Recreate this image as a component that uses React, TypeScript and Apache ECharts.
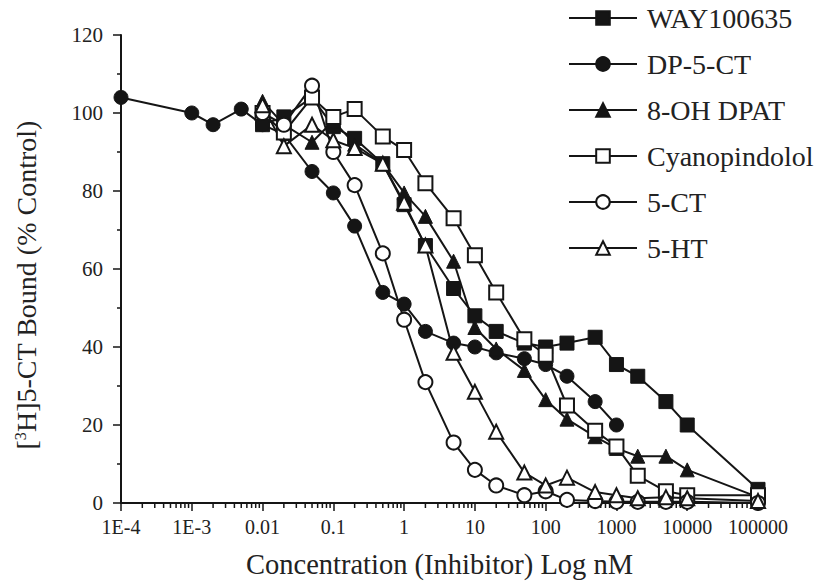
import React, { useEffect, useRef } from "react";
import * as echarts from "echarts";

const seriesNames = ["WAY100635", "DP-5-CT", "8-OH DPAT", "Cyanopindolol", "5-CT", "5-HT"];
const conc = [0.01, 0.02, 0.05, 0.1, 0.2, 0.5, 1, 2, 5, 10, 20, 50, 100, 200, 500, 1000, 2000, 5000, 10000, 100000];
const dpConc = [0.0001, 0.001, 0.002, 0.005, 0.01, 0.02, 0.05, 0.1, 0.2, 0.5, 1, 2, 5, 10, 20, 50, 100, 200, 500, 1000];

const way = [97, 99, 104, 96.5, 93.5, 87, 76.5, 66, 55, 48, 44, 41, 40, 41, 42.5, 35.5, 32.5, 26, 20, 3.5];
const dp = [104, 100, 97, 101, 97, 94.5, 85, 79.5, 71, 54, 51, 44, 41, 40, 38.5, 37, 35.5, 32.5, 26, 20];
const ohDpat = [103, 97, 92.5, 98, 92, 87, 79.5, 73.5, 62, 45, 39.5, 34, 26.5, 21.5, 17, 14, 12, 12, 8.5, 1.5];
const cyano = [100, 95, 104, 99, 101, 94, 90.5, 82, 73, 63.5, 54, 42, 38, 25, 18.5, 14.5, 7, 3, 2, 2];
const ct5 = [100, 97, 107, 90, 81.5, 64, 47, 31, 15.5, 8.5, 4.5, 2, 3, 0.8, 0.5, 0.3, 0.3, 0.3, 0.3, 0];
const ht5 = [102, 91.5, 97, 93, 91, 87, 77, 66, 38.5, 28.5, 18.3, 7.8, 4.5, 6.5, 2.8, 2, 1.2, 1.5, 1.2, 0.5];

const xTickLabels = ["1E-4", "1E-3", "0.01", "0.1", "1", "10", "100", "1000", "10000", "100000"];
const decades = [0.0001, 0.001, 0.01, 0.1, 1, 10, 100, 1000, 10000];
const minorMultipliers = [2, 3, 4, 5, 6, 7, 8, 9];

const FONT = "'Liberation Serif', 'Times New Roman', serif";
const INK = "#151515";

function zip(xs: number[], ys: number[]) {
  return xs.map((x, i) => [x, ys[i]]);
}

export default function App() {
  const ref = useRef<HTMLDivElement>(null);
  useEffect(() => {
    if (!ref.current) return;
    const chart = echarts.init(ref.current, null, { renderer: "svg" });
    const minorTicks: number[][] = [];
    decades.forEach((d) => minorMultipliers.forEach((m) => minorTicks.push([d * m, 0])));

    const mk = (name: string, xs: number[], ys: number[], symbol: string, filled: boolean) => ({
      name,
      type: "line",
      data: zip(xs, ys),
      symbol,
      symbolSize: 14,
      clip: false,
      lineStyle: { color: INK, width: 2 },
      itemStyle: filled
        ? { color: INK, borderColor: INK, borderWidth: 1 }
        : { color: "#ffffff", borderColor: INK, borderWidth: 2 },
      emphasis: { disabled: true },
    });

    chart.setOption({
      animation: false,
      backgroundColor: "#ffffff",
      textStyle: { fontFamily: FONT },
      grid: { left: 121, right: 59, top: 35, bottom: 81, containLabel: false, outerBoundsMode: "none" },
      legend: {
        orient: "vertical",
        left: 568,
        top: 3,
        padding: 0,
        itemWidth: 68,
        itemHeight: 17,
        itemGap: 16,
        data: seriesNames,
        textStyle: { fontFamily: FONT, fontSize: 28, color: "#222", lineHeight: 30, padding: [0, 0, 0, 5] },
      },
      xAxis: {
        type: "log",
        logBase: 10,
        min: 0.0001,
        max: 100000,
        name: "Concentration (Inhibitor) Log nM",
        nameLocation: "middle",
        nameGap: 47,
        nameTextStyle: { fontFamily: FONT, fontSize: 28.5, color: "#222" },
        axisLine: { show: true, lineStyle: { color: INK, width: 2 } },
        axisTick: { show: true, inside: false, length: 8, lineStyle: { color: INK, width: 1.5 } },
        axisLabel: {
          interval: 0,
          hideOverlap: false,
          margin: 14,
          fontFamily: FONT,
          fontSize: 20,
          color: "#222",
          formatter: (v: number) => xTickLabels[Math.round(Math.log10(v)) + 4] ?? "",
        },
        splitLine: { show: false },
        minorTick: { show: false },
      },
      yAxis: {
        type: "value",
        min: 0,
        max: 120,
        interval: 20,
        axisLine: { show: true, lineStyle: { color: INK, width: 2 } },
        axisTick: { show: true, inside: false, length: 8, lineStyle: { color: INK, width: 1.5 } },
        minorTick: { show: true, splitNumber: 2, length: 4, lineStyle: { color: INK, width: 1.5 } },
        axisLabel: { margin: 18, fontFamily: FONT, fontSize: 21, color: "#222" },
        splitLine: { show: false },
      },
      graphic: [
        {
          type: "text",
          x: 26,
          y: 285,
          rotation: Math.PI / 2,
          style: {
            text: "[{sup|3}H]5-CT Bound (% Control)",
            font: `28px ${FONT}`,
            fill: "#222",
            align: "center",
            verticalAlign: "middle",
            rich: {
              sup: { fontSize: 16, fontFamily: FONT, verticalAlign: "top", padding: [0, 0, 10, 0], fill: "#222" },
            },
          },
        },
      ],
      series: [
        {
          type: "custom",
          data: minorTicks,
          silent: true,
          clip: false,
          z: 1,
          renderItem: (_p: any, api: any) => {
            const pt = api.coord([api.value(0), 0]);
            return {
              type: "line",
              shape: { x1: pt[0], y1: pt[1], x2: pt[0], y2: pt[1] + 5 },
              style: { stroke: INK, lineWidth: 1.5 },
            };
          },
        },
        mk("WAY100635", conc, way, "rect", true),
        mk("DP-5-CT", dpConc, dp, "circle", true),
        mk("8-OH DPAT", conc, ohDpat, "triangle", true),
        mk("Cyanopindolol", conc, cyano, "rect", false),
        mk("5-CT", conc, ct5, "circle", false),
        mk("5-HT", conc, ht5, "triangle", false),
      ],
    });
    return () => chart.dispose();
  }, []);
  return <div ref={ref} style={{ position: "absolute", left: 0, top: 0, width: 817, height: 584 }} />;
}
